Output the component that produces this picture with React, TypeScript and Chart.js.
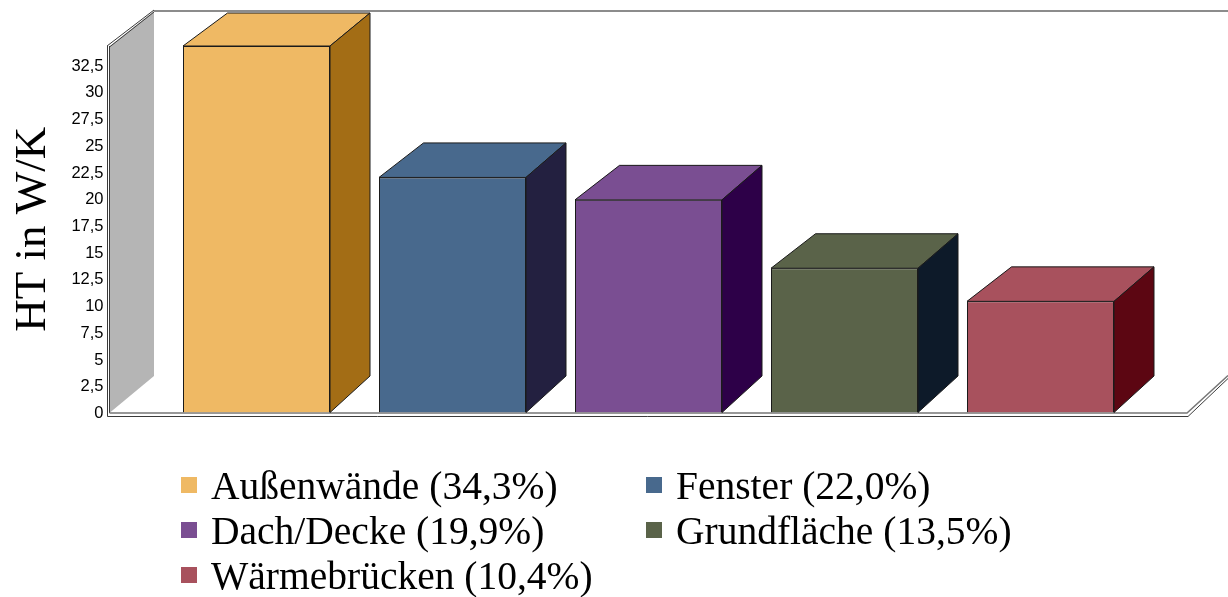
import React, { useEffect, useRef } from "react";
import { Chart, registerables } from "chart.js";

Chart.register(...registerables);

const categories = ["Außenwände", "Fenster", "Dach/Decke", "Grundfläche", "Wärmebrücken"];
const values = [34.3, 22.0, 19.9, 13.5, 10.4];
const shareLabels = ["34,3%", "22,0%", "19,9%", "13,5%", "10,4%"];
const frontColors = ["#EFB964", "#48698D", "#7A4E92", "#5A6349", "#A8515D"];
const sideColors = ["#A36D15", "#232040", "#2D0048", "#0D1A29", "#5C0612"];
const axisTitle = "HT in W/K";

const DX_RIGHT = 40;
const DX_LEFT = 44.5;
const DY_TOP = 34.5;
const DY_BOTTOM = 36.5;

const scene3d = {
  id: "scene3d",
  beforeDatasetsDraw(chart: any) {
    const { ctx, chartArea: a } = chart;
    const left = a.left - 48.5;
    const floorRight = a.right + 49.5;
    const top = a.top;
    const bottom = a.bottom;
    const rimY = top - 35;
    ctx.save();
    // back wall on the left
    ctx.fillStyle = "#B5B5B5";
    ctx.beginPath();
    ctx.moveTo(left, top);
    ctx.lineTo(left + 44, rimY);
    ctx.lineTo(left + 44, bottom - DY_BOTTOM);
    ctx.lineTo(left, bottom);
    ctx.closePath();
    ctx.fill();
    // top rim
    ctx.strokeStyle = "#8C8C8C";
    ctx.lineWidth = 2;
    ctx.beginPath();
    ctx.moveTo(left + 44, rimY);
    ctx.lineTo(chart.width, rimY);
    ctx.stroke();
    // white floor band and double edges
    ctx.lineWidth = 1;
    ctx.strokeStyle = "#3A3A3A";
    ctx.beginPath();
    ctx.moveTo(left - 3, top);
    ctx.lineTo(left + 44, rimY - 1);
    ctx.moveTo(left - 0.5, top + 1);
    ctx.lineTo(left + 44, rimY + 1);
    ctx.moveTo(left - 2.5, top);
    ctx.lineTo(left - 2.5, bottom + 4);
    ctx.lineTo(floorRight, bottom + 4);
    ctx.lineTo(chart.width, bottom + 4 - 38);
    ctx.moveTo(left - 0.5, top);
    ctx.lineTo(left - 0.5, bottom + 0.5);
    ctx.stroke();
    ctx.strokeStyle = "#777777";
    ctx.lineWidth = 1.5;
    ctx.beginPath();
    ctx.moveTo(left - 0.5, bottom + 0.5);
    ctx.lineTo(floorRight - 1, bottom + 0.5);
    ctx.lineTo(chart.width, bottom - 37);
    ctx.stroke();
    ctx.restore();
  },
  afterDatasetsDraw(chart: any) {
    const { ctx, chartArea: a } = chart;
    const meta = chart.getDatasetMeta(0);
    const ceiling = a.top - 33;
    ctx.save();
    ctx.strokeStyle = "#1A1A1A";
    ctx.lineWidth = 1;
    ctx.lineJoin = "round";
    meta.data.forEach((bar: any, i: number) => {
      const l = bar.x - bar.width / 2;
      const r = bar.x + bar.width / 2;
      const t = bar.y;
      const b = bar.base;
      const backY = Math.max(t - DY_TOP, ceiling);
      // top face
      ctx.fillStyle = frontColors[i];
      ctx.beginPath();
      ctx.moveTo(l, t);
      ctx.lineTo(l + DX_LEFT, backY);
      ctx.lineTo(r + DX_RIGHT, backY);
      ctx.lineTo(r, t);
      ctx.closePath();
      ctx.fill();
      ctx.stroke();
      // side face
      ctx.fillStyle = sideColors[i];
      ctx.beginPath();
      ctx.moveTo(r, t);
      ctx.lineTo(r + DX_RIGHT, backY);
      ctx.lineTo(r + DX_RIGHT, b - DY_BOTTOM);
      ctx.lineTo(r, b);
      ctx.closePath();
      ctx.fill();
      ctx.stroke();
    });
    ctx.restore();
  },
  afterDraw(chart: any) {
    const { ctx } = chart;
    const columnX = [181, 646];
    const rowY = [499, 544, 589];
    ctx.save();
    ctx.font = '39.5px "Liberation Serif"';
    ctx.textBaseline = "alphabetic";
    ctx.textAlign = "left";
    categories.forEach((name, i) => {
      const x = columnX[i % 2];
      const y = rowY[Math.floor(i / 2)];
      ctx.fillStyle = frontColors[i];
      ctx.fillRect(x, y - 22, 16, 16);
      ctx.fillStyle = "#000000";
      ctx.fillText(`${name} (${shareLabels[i]})`, x + 30, y);
    });
    ctx.restore();
  },
};

export default function App() {
  const ref = useRef<HTMLCanvasElement>(null);
  useEffect(() => {
    document.body.style.margin = "0";
    const chart = new Chart(ref.current!, {
      type: "bar",
      data: {
        labels: categories,
        datasets: [
          {
            data: values,
            backgroundColor: frontColors,
            borderColor: "#1A1A1A",
            borderWidth: 1,
            barPercentage: 0.75,
            categoryPercentage: 1,
          },
        ],
      },
      options: {
        animation: false,
        responsive: false,
        layout: { padding: { left: 0, right: 89.5, top: 46, bottom: 184.5 } },
        plugins: { legend: { display: false }, tooltip: { enabled: false } },
        scales: {
          x: {
            grid: { display: false, drawTicks: false },
            border: { display: false },
            ticks: { display: false },
            afterFit: (scale: any) => {
              scale.height = 0;
              scale.paddingTop = 0;
              scale.paddingBottom = 0;
              scale.paddingLeft = 0;
              scale.paddingRight = 0;
            },
          },
          y: {
            min: 0,
            max: 34.3,
            afterFit: (scale: any) => {
              scale.width = 158.5;
              scale.paddingTop = 0;
              scale.paddingBottom = 0;
            },
            grid: { display: false, drawTicks: false },
            border: { display: false },
            ticks: {
              stepSize: 2.5,
              includeBounds: false,
              padding: 55,
              labelOffset: 1,
              color: "#000000",
              autoSkip: false,
              font: { family: '"Liberation Sans"', size: 16.5 },
              callback: (v: any) => String(v).replace(".", ","),
            },
            title: {
              display: true,
              text: axisTitle,
              color: "#000000",
              font: { family: '"Liberation Serif"', size: 45 },
              padding: { top: 6, bottom: 0 },
            },
          },
        },
      },
      plugins: [scene3d],
    } as any);
    return () => chart.destroy();
  }, []);
  return (
    <canvas
      ref={ref}
      width={1228}
      height={597}
      style={{ display: "block", width: 1228, height: 597 }}
    />
  );
}
